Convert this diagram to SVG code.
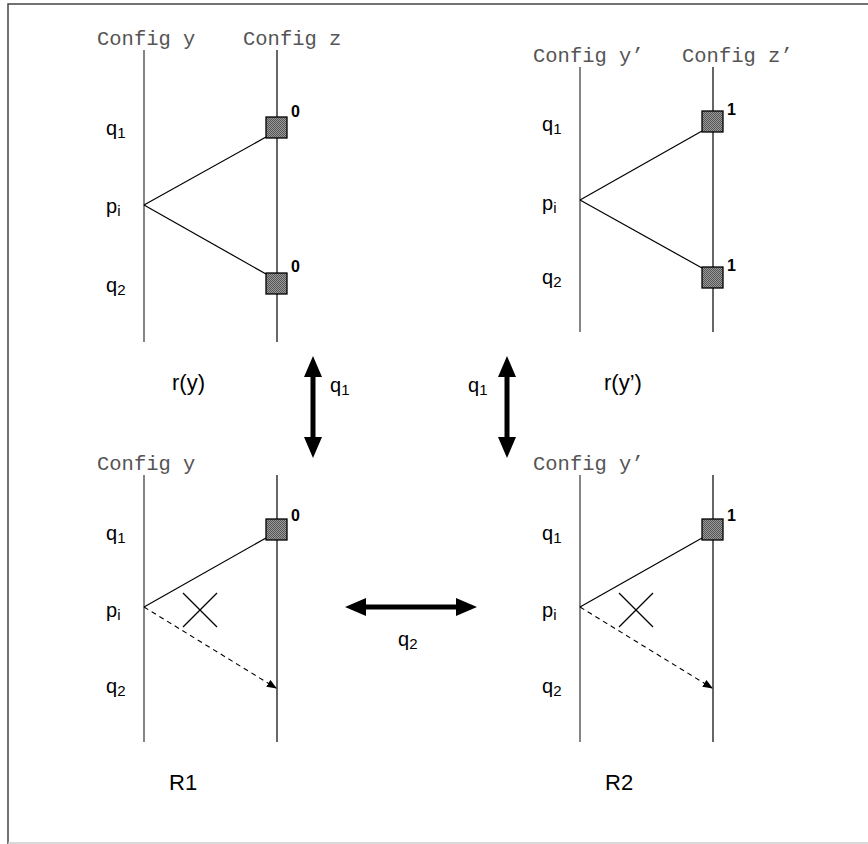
<svg xmlns="http://www.w3.org/2000/svg" width="868" height="844" viewBox="0 0 868 844">
<style>
.cfg{font-family:"Liberation Mono","Courier New",monospace;font-size:20.5px;fill:#555}
.lab{font-family:"Liberation Sans",Arial,sans-serif;font-size:20px;fill:#000}
.big{font-family:"Liberation Sans",Arial,sans-serif;font-size:22px;fill:#000}
.dig{font-family:"Liberation Sans",Arial,sans-serif;font-size:16px;font-weight:bold;fill:#000}
.ln{stroke:#000;stroke-width:1.2;fill:none}
.tl{stroke:#444;stroke-width:1.3;fill:none}
.dash{stroke:#000;stroke-width:1.1;fill:none;stroke-dasharray:5,4}
.sq{fill:url(#chk);stroke:#000;stroke-width:1.3}
.sub{font-size:15px}
</style>
<defs>
<pattern id="chk" width="2" height="2" patternUnits="userSpaceOnUse">
<rect width="2" height="2" fill="#9a9a9a"/>
<rect width="1" height="1" fill="#555"/>
<rect x="1" y="1" width="1" height="1" fill="#555"/>
</pattern>
<marker id="sm" markerWidth="10" markerHeight="8" refX="9" refY="4" orient="auto" markerUnits="userSpaceOnUse">
<path d="M0,0 L10,4 L0,8 z" fill="#000"/>
</marker>
</defs>
<rect width="868" height="844" fill="#fff"/>
<path d="M8,844 V4 H868" fill="none" stroke="#444" stroke-width="1.5"/>
<line x1="8" y1="843" x2="868" y2="843" stroke="#ccc" stroke-width="1.5"/>

<g id="panel-ry">
<text class="cfg" x="97" y="45">Config y</text>
<text class="cfg" x="243" y="45">Config z</text>
<line class="tl" x1="144" y1="50" x2="144" y2="342"/>
<line class="ln" x1="277" y1="50" x2="277" y2="342"/>
<line class="ln" x1="144" y1="205" x2="266" y2="137"/>
<line class="ln" x1="144" y1="205" x2="266" y2="274"/>
<rect class="sq" x="266" y="117" width="21" height="21"/>
<rect class="sq" x="266" y="273" width="21" height="21"/>
<text class="dig" x="291" y="117">0</text>
<text class="dig" x="291" y="272">0</text>
<text class="lab" x="106" y="135">q<tspan class="sub" dy="3">1</tspan></text>
<text class="lab" x="106" y="213">p<tspan class="sub" dy="3">i</tspan></text>
<text class="lab" x="106" y="292">q<tspan class="sub" dy="3">2</tspan></text>
<text class="big" x="172" y="390">r(y)</text>
</g>

<g id="panel-ryp">
<text class="cfg" x="533" y="62">Config y’</text>
<text class="cfg" x="682" y="62">Config z’</text>
<line class="tl" x1="580" y1="67" x2="580" y2="332"/>
<line class="ln" x1="713" y1="67" x2="713" y2="332"/>
<line class="ln" x1="580" y1="200" x2="702" y2="131"/>
<line class="ln" x1="580" y1="200" x2="702" y2="268"/>
<rect class="sq" x="702" y="111" width="21" height="21"/>
<rect class="sq" x="702" y="267" width="21" height="21"/>
<text class="dig" x="727" y="115">1</text>
<text class="dig" x="727" y="271">1</text>
<text class="lab" x="542" y="131">q<tspan class="sub" dy="3">1</tspan></text>
<text class="lab" x="542" y="210">p<tspan class="sub" dy="3">i</tspan></text>
<text class="lab" x="542" y="284">q<tspan class="sub" dy="3">2</tspan></text>
<text class="big" x="604" y="390">r(y’)</text>
</g>

<g id="panel-R1">
<text class="cfg" x="97" y="470">Config y</text>
<line class="tl" x1="144" y1="475" x2="144" y2="742"/>
<line class="ln" x1="277" y1="475" x2="277" y2="742"/>
<line class="ln" x1="144" y1="607" x2="266" y2="538"/>
<line class="dash" x1="144" y1="607" x2="276" y2="688" marker-end="url(#sm)"/>
<rect class="sq" x="266" y="519" width="21" height="21"/>
<text class="dig" x="291" y="521">0</text>
<line class="ln" x1="183" y1="593" x2="217" y2="627"/>
<line class="ln" x1="217" y1="593" x2="183" y2="627"/>
<text class="lab" x="106" y="540">q<tspan class="sub" dy="3">1</tspan></text>
<text class="lab" x="106" y="617">p<tspan class="sub" dy="3">i</tspan></text>
<text class="lab" x="106" y="693">q<tspan class="sub" dy="3">2</tspan></text>
<text class="big" x="169" y="790">R1</text>
</g>

<g id="panel-R2">
<text class="cfg" x="533" y="470">Config y’</text>
<line class="tl" x1="580" y1="475" x2="580" y2="742"/>
<line class="ln" x1="713" y1="475" x2="713" y2="742"/>
<line class="ln" x1="580" y1="607" x2="702" y2="538"/>
<line class="dash" x1="580" y1="607" x2="712" y2="688" marker-end="url(#sm)"/>
<rect class="sq" x="702" y="519" width="21" height="21"/>
<text class="dig" x="727" y="521">1</text>
<line class="ln" x1="619" y1="593" x2="653" y2="627"/>
<line class="ln" x1="653" y1="593" x2="619" y2="627"/>
<text class="lab" x="542" y="540">q<tspan class="sub" dy="3">1</tspan></text>
<text class="lab" x="542" y="617">p<tspan class="sub" dy="3">i</tspan></text>
<text class="lab" x="542" y="693">q<tspan class="sub" dy="3">2</tspan></text>
<text class="big" x="605" y="790">R2</text>
</g>

<g id="connectors">
<path d="M313,356 L322,377 L315.5,377 L315.5,437 L322,437 L313,458 L304,437 L310.5,437 L310.5,377 L304,377 z" fill="#000"/>
<path d="M507,356 L516,377 L509.5,377 L509.5,437 L516,437 L507,458 L498,437 L504.5,437 L504.5,377 L498,377 z" fill="#000"/>
<path d="M345,607 L366,598 L366,604.5 L456,604.5 L456,598 L477,607 L456,616 L456,609.5 L366,609.5 L366,616 z" fill="#000"/>
<text class="lab" x="330" y="392">q<tspan class="sub" dy="3">1</tspan></text>
<text class="lab" x="468" y="392">q<tspan class="sub" dy="3">1</tspan></text>
<text class="lab" x="398" y="646">q<tspan class="sub" dy="3">2</tspan></text>
</g>
</svg>
